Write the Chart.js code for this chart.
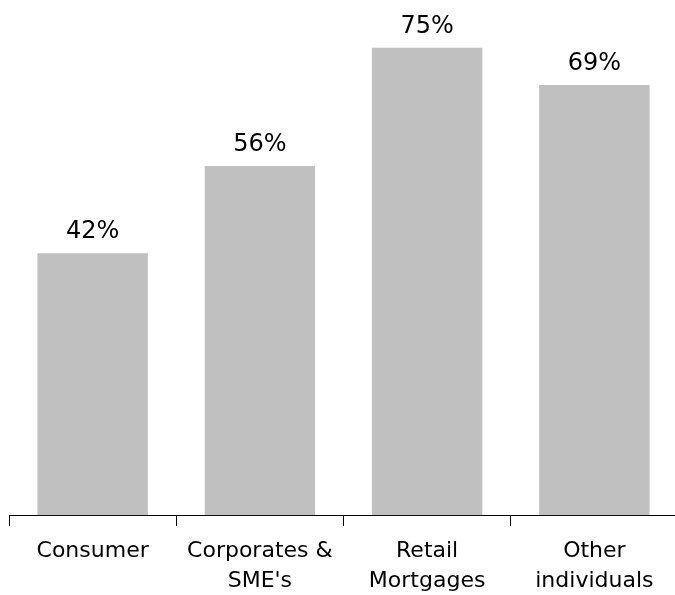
<!DOCTYPE html>
<html>
<head>
<meta charset="utf-8">
<script src="https://cdn.jsdelivr.net/npm/chart.js@4/dist/chart.umd.min.js"></script>
<style>
  html, body { margin: 0; padding: 0; background: #fff; overflow: hidden; }
  #wrap { width: 678px; height: 599px; }
</style>
</head>
<body>
<div id="wrap"><canvas id="shareChart"></canvas></div>
<script>
const categories = ['Consumer', ['Corporates &', "SME's"], ['Retail', 'Mortgages'], ['Other', 'individuals']];
const shares = [42, 56, 75, 69];
const valueLabels = ['42%', '56%', '75%', '69%'];

// writes the percentage above each bar
const barValues = {
    id: 'barValues',
    afterDatasetsDraw(chart) {
        const ctx = chart.ctx;
        const meta = chart.getDatasetMeta(0);
        ctx.save();
        ctx.font = '24px "DejaVu Sans"';
        ctx.fillStyle = '#000';
        ctx.textAlign = 'center';
        ctx.textBaseline = 'alphabetic';
        meta.data.forEach((bar, i) => {
            ctx.fillText(valueLabels[i], bar.x, bar.y - 15);
        });
        ctx.restore();
    }
};

document.addEventListener('DOMContentLoaded', function() {
    const ctx = document.getElementById('shareChart').getContext('2d');
    new Chart(ctx, {
        type: 'bar',
        data: {
            labels: categories,
            datasets: [{
                data: shares,
                backgroundColor: '#c0c0c0',
                borderWidth: 0,
                categoryPercentage: 1,
                barPercentage: 0.66
            }]
        },
        options: {
            responsive: true,
            maintainAspectRatio: false,
            animation: false,
            layout: {
                padding: { left: 9, right: 0, top: 4, bottom: -7 }
            },
            plugins: {
                legend: { display: false },
                tooltip: { enabled: false }
            },
            scales: {
                x: {
                    border: { display: true, color: '#000', width: 1 },
                    grid: {
                        offset: true,
                        drawOnChartArea: false,
                        drawTicks: true,
                        tickLength: 11,
                        color: '#000'
                    },
                    ticks: {
                        color: '#000',
                        padding: 10,
                        maxRotation: 0,
                        autoSkip: false,
                        font: { family: '"DejaVu Sans"', size: 22, lineHeight: 1.36 }
                    }
                },
                y: {
                    display: false,
                    min: 0,
                    max: 82
                }
            }
        },
        plugins: [barValues]
    });
});
</script>
</body>
</html>
